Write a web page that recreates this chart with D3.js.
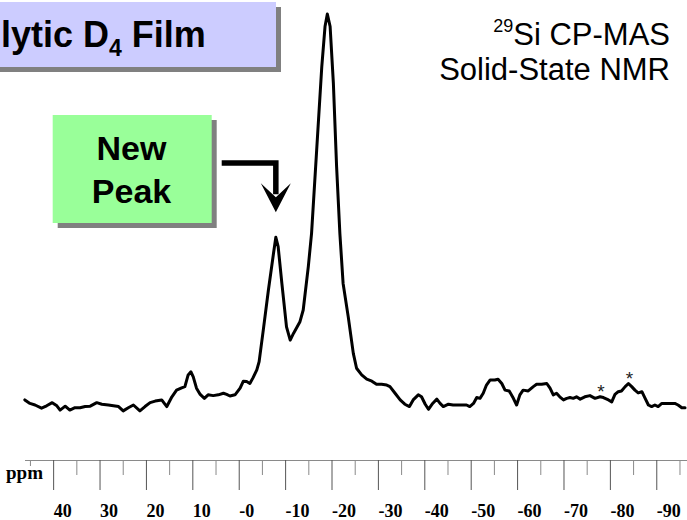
<!DOCTYPE html>
<html>
<head>
<meta charset="utf-8">
<script src="https://cdn.jsdelivr.net/npm/d3@7"></script>
<style>
  html, body { margin: 0; padding: 0; background: #ffffff; }
  svg { display: block; }
</style>
</head>
<body>
<svg id="chart" width="687" height="520"></svg>
<script>
// 29Si CP-MAS spectrum: chemical shift (ppm) and relative intensity
const shiftPpm = [
  46.1, 45.0, 43.9, 42.5, 41.4, 40.2, 39.2, 38.5, 37.4, 36.4, 35.3, 34.2, 33.1, 32.0,
  30.6, 29.5, 28.1, 27.0, 25.9, 24.9, 23.8, 22.7, 21.3, 20.2, 19.1, 18.0, 16.6, 15.5,
  14.4, 13.4, 12.3, 11.6, 10.9, 10.3, 9.8, 9.1, 8.3, 7.4, 6.6, 5.5, 4.4, 3.3, 2.6, 1.9,
  0.8, -0.3, -1.0, -1.7, -2.4, -3.1, -3.9, -4.4, -5.3, -6.4, -7.5, -8.0, -8.5, -9.3,
  -10.3, -11.1, -11.8, -13.2, -13.9, -15.0, -15.7, -16.8, -17.9, -18.6, -19.1, -19.7,
  -20.4, -21.1, -21.8, -22.5, -23.6, -24.7, -25.4, -26.5, -27.6, -28.7, -29.7, -30.8,
  -31.9, -32.6, -33.7, -34.8, -35.8, -36.8, -37.6, -38.7, -39.4, -40.2, -40.9, -41.8,
  -42.7, -43.4, -44.1, -45.2, -46.2, -47.7, -49.1, -49.8, -50.6, -51.3, -52.0, -52.7,
  -53.4, -54.2, -55.2, -55.9, -56.7, -57.4, -58.3, -59.2, -59.9, -60.6, -61.3, -62.4,
  -63.5, -64.2, -65.3, -66.4, -67.1, -67.8, -68.5, -69.2, -70.0, -70.7, -71.4, -72.1,
  -72.8, -73.6, -74.6, -75.7, -76.8, -77.9, -78.6, -79.7, -80.4, -81.1, -81.8, -82.5,
  -83.3, -84.0, -84.7, -85.4, -86.1, -86.9, -87.6, -88.3, -89.0, -89.7, -90.4, -91.2,
  -92.6, -94.0, -94.7, -95.5, -96.2
];
const intensity = [
  1.3, 0.4, 0.0, -0.8, -0.2, 0.6, -0.2, -1.3, -0.3, -1.3, -0.7, -0.7, -0.4, -0.3,
  0.6, 0.2, 0.0, -0.2, -0.4, -1.5, -0.7, 0.0, -1.5, -0.4, 0.6, 1.0, 1.3, -0.4,
  2.1, 3.8, 4.4, 4.7, 7.7, 8.5, 7.2, 4.3, 2.7, 1.7, 2.6, 2.4, 2.6, 3.0, 2.7, 2.3,
  2.6, 4.3, 6.1, 6.0, 5.5, 7.0, 9.0, 11.1, 19.2, 29.4, 38.8, 42.9, 40.5, 31.1,
  20.0, 16.6, 18.3, 21.3, 24.3, 35.4, 43.9, 65.2, 86.5, 96.8, 100.0, 96.8,
  82.3, 60.9, 43.9, 31.1, 22.6, 13.2, 9.4, 7.7, 6.6, 6.1, 5.3, 5.3,
  5.1, 4.7, 3.0, 1.3, 0.2, -0.4, 1.3, 2.6, 2.1, 0.2, -1.1, 0.4,
  1.5, 0.4, -0.4, 0.2, 0.0, 0.0, 0.0, -0.4, 0.4, 1.9, 1.7, 3.0,
  5.1, 6.4, 6.4, 6.6, 5.5, 3.8, 3.6, 1.7, 0.0, 2.6, 3.8, 3.6,
  4.7, 5.3, 5.3, 5.5, 4.3, 2.6, 3.0, 2.1, 1.3, 1.7, 1.9, 1.7,
  2.1, 1.5, 2.1, 2.4, 1.7, 2.1, 1.9, 1.3, 0.8, 2.7, 3.4, 3.6,
  4.7, 5.5, 4.7, 3.8, 3.1, 3.4, 1.7, 0.0, -0.4, 0.0, -0.4, 0.4,
  0.4, 0.4, 0.0, -0.7, -0.7
];

// Axis ticks (ppm)
const majorTicks = [40, 30, 20, 10, 0, -10, -20, -30, -40, -50, -60, -70, -80, -90];
const majorTickLabels = ["40", "30", "20", "10", "-0", "-10", "-20", "-30", "-40", "-50", "-60", "-70", "-80", "-90"];
const minorTicks = [45, 35, 25, 15, 5, -5, -15, -25, -35, -45, -55, -65, -75, -85, -95];

// Spinning sidebands marked with asterisks
const sidebandPpm = [-78.1, -84.2];
const sidebandLevel = [4.9, 8.2];

// Resonance highlighted by the callout
const newPeakPpm = -8.0;
const newPeakLevel = 42.9;

const svg = d3.select("#chart");

const x = d3.scaleLinear().domain([46, -96.6]).range([25.3, 686.9]);
const y = d3.scaleLinear().domain([0, 100]).range([405, 14]);

// Title box with drop shadow (runs off the left edge)
svg.append("rect").attr("x", -5).attr("y", 7).attr("width", 286).attr("height", 65).attr("fill", "#808080");
svg.append("rect").attr("x", -10).attr("y", 2).attr("width", 286).attr("height", 65).attr("fill", "#ccccff");
const title = svg.append("text")
  .attr("x", 1).attr("y", 47)
  .attr("text-anchor", "start")
  .attr("font-family", "Liberation Sans, Arial, sans-serif")
  .attr("font-weight", "bold")
  .attr("font-size", 36)
  .attr("fill", "#000");
title.append("tspan").text("lytic D");
title.append("tspan").attr("font-size", 23).attr("dy", 9).text("4");
title.append("tspan").attr("dy", -9).text(" Film");

// Experiment description, top right
const desc = svg.append("g")
  .attr("font-family", "Liberation Sans, Arial, sans-serif")
  .attr("fill", "#000");
const line1 = desc.append("text").attr("x", 670).attr("y", 45).attr("text-anchor", "end").attr("font-size", 31);
line1.append("tspan").attr("font-size", 18).attr("dy", -13).text("29");
line1.append("tspan").attr("dy", 13).text("Si CP-MAS");
desc.append("text").attr("x", 670).attr("y", 80).attr("text-anchor", "end").attr("font-size", 31).text("Solid-State NMR");

// Callout box
svg.append("rect").attr("x", 57.7).attr("y", 120).attr("width", 159).attr("height", 108).attr("fill", "#808080");
svg.append("rect").attr("x", 52.7).attr("y", 115).attr("width", 159).attr("height", 108).attr("fill", "#99ff99");
const callout = svg.append("g")
  .attr("font-family", "Liberation Sans, Arial, sans-serif")
  .attr("font-weight", "bold")
  .attr("font-size", 34)
  .attr("text-anchor", "middle")
  .attr("fill", "#000");
callout.append("text").attr("x", 131.5).attr("y", 160).text("New");
callout.append("text").attr("x", 131.5).attr("y", 203).text("Peak");

// Bent arrow pointing down at the new peak
const ax = x(newPeakPpm);
const tipY = y(newPeakLevel) - 25;
svg.append("path")
  .attr("d", `M221.7,163H${ax}V${tipY - 18}`)
  .attr("fill", "none")
  .attr("stroke", "#000")
  .attr("stroke-width", 5.5)
  .attr("stroke-linejoin", "miter");
svg.append("path")
  .attr("d", `M${ax},${tipY}L${ax - 15},${tipY - 29}L${ax},${tipY - 15}L${ax + 15},${tipY - 29}Z`)
  .attr("fill", "#000");

// Spectrum trace
const points = shiftPpm.map((p, i) => [p, intensity[i]]);
svg.append("path")
  .datum(points)
  .attr("fill", "none")
  .attr("stroke", "#000")
  .attr("stroke-width", 3)
  .attr("stroke-linejoin", "round")
  .attr("stroke-linecap", "round")
  .attr("d", d3.line().x(d => x(d[0])).y(d => y(d[1])).curve(d3.curveLinear));

// Sideband asterisks
svg.append("g")
  .attr("font-family", "Liberation Sans, Arial, sans-serif")
  .attr("font-size", 19)
  .attr("fill", "#222")
  .attr("text-anchor", "middle")
  .selectAll("text")
  .data(sidebandPpm)
  .join("text")
  .attr("x", d => x(d))
  .attr("y", (d, i) => y(sidebandLevel[i]) + 12)
  .text("*");

// ppm axis
const axisY = 460;
const minorAxis = d3.axisBottom(x).tickValues(minorTicks).tickSize(15).tickSizeOuter(0).tickFormat("");
const majorAxis = d3.axisBottom(x).tickValues(majorTicks).tickSize(30).tickSizeOuter(0)
  .tickFormat((d, i) => majorTickLabels[i]);

const gMinor = svg.append("g").attr("transform", `translate(0,${axisY})`).call(minorAxis);
gMinor.select(".domain").remove();
gMinor.selectAll(".tick line").attr("stroke", "#8a8a8a");

const gMajor = svg.append("g").attr("transform", `translate(0,${axisY})`).call(majorAxis);
gMajor.select(".domain").attr("stroke", "#8a8a8a").attr("d", `M25,0.5H687`);
gMajor.selectAll(".tick line").attr("stroke", "#555");
gMajor.selectAll(".tick text")
  .attr("text-anchor", "start")
  .attr("x", 0)
  .attr("y", 57)
  .attr("dy", 0)
  .attr("font-family", "Liberation Serif, Times New Roman, serif")
  .attr("font-weight", "bold")
  .attr("font-size", 18)
  .attr("fill", "#000");

// Axis unit label
svg.append("rect").attr("x", 4).attr("y", 466).attr("width", 44).attr("height", 22).attr("fill", "#fff");
svg.append("text")
  .attr("x", 6).attr("y", 479)
  .attr("font-family", "Liberation Serif, Times New Roman, serif")
  .attr("font-weight", "bold")
  .attr("font-size", 19)
  .attr("fill", "#000")
  .text("ppm");
</script>
</body>
</html>
